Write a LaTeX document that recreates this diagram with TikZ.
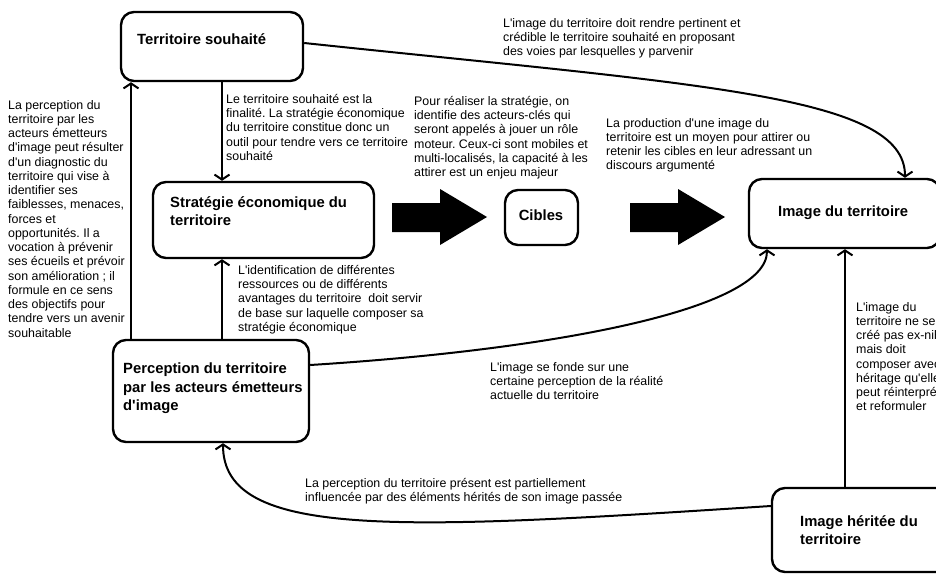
\documentclass[tikz,border=0pt]{standalone}
\usepackage{fontspec}
\setmainfont{Liberation Sans}
\usetikzlibrary{arrows.meta}
\newcommand\ap{\textquotesingle}
\frenchspacing
\tikzset{
  x=1pt, y=-1pt,
  box/.style={draw, line width=2.4pt, rounded corners=13pt, inner sep=0pt},
  txt/.style={anchor=north west, inner sep=0pt, align=left, font=\fontsize{12.4}{14.25}\selectfont},
  lbl/.style={anchor=north west, inner sep=0pt, align=left, font=\fontsize{14.8}{18.5}\selectfont\bfseries},
  conn/.style={line width=2pt, -{Straight Barb[length=5pt,width=15pt]}},
  bigarrow/.style={fill=black}
}
\begin{document}
\begin{tikzpicture}
\useasboundingbox (0,0) rectangle (936,575);
\clip (0,0) rectangle (936,575);

% boxes
\node[box, minimum width=182pt, minimum height=69pt] (ts) at (212,46.5) {};
\node[box, minimum width=221pt, minimum height=76pt] (se) at (263.5,220) {};
\node[box, minimum width=73pt, minimum height=55pt] (ci) at (541.5,217.5) {};
\node[box, minimum width=191pt, minimum height=69pt] (it) at (844.5,213.5) {};
\node[box, minimum width=196pt, minimum height=102pt] (pe) at (211,391) {};
\node[box, minimum width=178pt, minimum height=84pt] (ih) at (861,530) {};

% box labels
\node[lbl] (tsl) at (137,33) {Territoire souhaité};
\node[lbl] (sel) at (170,196) {Stratégie économique du\\territoire};
\node[lbl, anchor=center] (cil) at (541,215) {Cibles};
\node[lbl] (itl) at (778,206) {Image du territoire};
\node[lbl] (pel) at (123,363) {Perception du territoire\\par les acteurs émetteurs\\d\ap image};
\node[lbl] (ihl) at (800,515) {Image héritée du\\territoire};

% big arrows
\fill[bigarrow] (392,203) -- (440,203) -- (440,189) -- (487,217) -- (440,245) -- (440,232) -- (392,232) -- cycle;
\fill[bigarrow] (630,203) -- (678,203) -- (678,189) -- (725,217) -- (678,245) -- (678,232) -- (630,232) -- cycle;

% connectors
\draw[conn] ([yshift=3.5pt]ts.east) .. controls (700,85) and (905,95) .. ([xshift=60.5pt]it.north);
\draw[conn] ([xshift=10pt]ts.south) -- ([xshift=10pt]ts.south |- se.north);
\draw[conn] ([xshift=11pt]pe.north) -- ([xshift=11pt]pe.north |- se.south);
\draw[conn] ([xshift=-80pt]pe.north) -- ([xshift=-80pt]pe.north |- ts.south);
\draw[conn] ([yshift=26pt]pe.east) .. controls (550,350) and (767,310) .. ([xshift=-77.5pt]it.south);
\draw[conn] ([xshift=-16pt]ih.north) -- ([xshift=-16pt]ih.north |- it.south);
\draw[conn] ([yshift=24pt]ih.west) .. controls (400,530) and (223,540) .. ([xshift=12pt]pe.south);

% texts
\node[txt] (tleft) at (8,100) {La perception du\\territoire par les\\acteurs émetteurs\\d\ap image peut résulter\\d\ap un diagnostic du\\territoire qui vise à\\identifier ses\\faiblesses, menaces,\\forces et\\opportunités. Il a\\vocation à prévenir\\ses écueils et prévoir\\son amélioration ; il\\formule en ce sens\\des objectifs pour\\tendre vers un avenir\\souhaitable};
\node[txt] (tfin) at (226,94) {Le territoire souhaité est la\\finalité. La stratégie économique\\du territoire constitue donc un\\outil pour tendre vers ce territoire\\souhaité};
\node[txt] (tstrat) at (414,96) {Pour réaliser la stratégie, on\\identifie des acteurs-clés qui\\seront appelés à jouer un rôle\\moteur. Ceux-ci sont mobiles et\\multi-localisés, la capacité à les\\attirer est un enjeu majeur};
\node[txt] (tprod) at (606,118) {La production d\ap une image du\\territoire est un moyen pour attirer ou\\retenir les cibles en leur adressant un\\discours argumenté};
\node[txt] (ttop) at (503,18) {L\ap image du territoire doit rendre pertinent et\\crédible le territoire souhaité en proposant\\des voies par lesquelles y parvenir};
\node[txt] (tident) at (238,265) {L\ap identification de différentes\\ressources ou de différents\\avantages du territoire\ \ doit servir\\de base sur laquelle composer sa\\stratégie économique};
\node[txt] (tfonde) at (490,362) {L\ap image se fonde sur une\\certaine perception de la réalité\\actuelle du territoire};
\node[txt] (therit) at (856,302) {L\ap image du\\territoire ne se\\créé pas ex-nihilo\\mais doit\\composer avec\\héritage qu\ap elle\\peut réinterpréter\\et reformuler};
\node[txt] (tbottom) at (305,478) {La perception du territoire présent est partiellement\\influencée par des éléments hérités de son image passée};
\end{tikzpicture}
\end{document}
